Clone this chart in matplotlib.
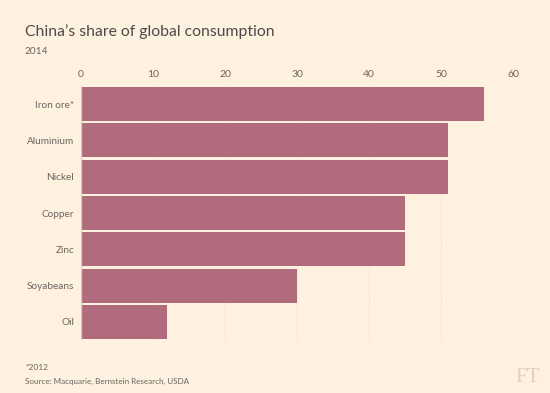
import matplotlib.pyplot as plt
import numpy as np

categories = ["Iron ore*", "Aluminium", "Nickel", "Copper", "Zinc", "Soyabeans", "Oil"]
values = [56, 51, 51, 45, 45, 30, 12]
xticks = [0, 10, 20, 30, 40, 50, 60]

bg = "#fff1e0"
bar_col = "#b06b7d"
txt = "#6b6560"

plt.rcParams['font.family'] = ['Lato', 'DejaVu Sans']

fig = plt.figure(figsize=(5.5, 3.93), dpi=100, facecolor=bg)
ax = fig.add_axes([81/550, 1 - 340/393, (513 - 81)/550, (340 - 86)/393])
ax.set_facecolor(bg)

y = np.arange(len(categories))
ax.barh(y, values, height=0.94, color=bar_col, zorder=2)
ax.set_ylim(len(categories) - 0.5, -0.5)
ax.set_xlim(0, 60)
ax.set_yticks(y)
ax.set_yticklabels(categories, fontsize=7.2, color=txt)
ax.set_xticks(xticks)
ax.set_xticklabels([str(t) for t in xticks], fontsize=7.5, color=txt)
ax.xaxis.tick_top()
ax.tick_params(axis='y', length=0, pad=5)
ax.tick_params(axis='x', length=0, pad=5)
for s in ax.spines.values():
    s.set_visible(False)
ax.grid(axis='x', color="#e3d6c8", linestyle=(0, (1, 1.5)), linewidth=0.7, zorder=0)
ax.axvline(0, color="#d3c9bc", linewidth=1, zorder=3)

fig.text(25/550, 1 - 32/393, "China\u2019s share of global consumption", fontsize=11.3,
         color="#4f4a47", va='center', ha='left')
fig.text(25/550, 1 - 51/393, "2014", fontsize=7.3, color=txt, va='center', ha='left')
fig.text(25/550, 1 - 367/393, "*2012", fontsize=6, color=txt, va='center', ha='left')
fig.text(25/550, 1 - 381/393, "Source: Macquarie, Bernstein Research, USDA", fontsize=5.8,
         color=txt, va='center', ha='left')
fig.text(540/550, 1 - 377/393, "FT", fontsize=15, color="#ddd2c5", family='Liberation Serif',
         va='center', ha='right')

fig.savefig("out.png", dpi=100, facecolor=bg)
